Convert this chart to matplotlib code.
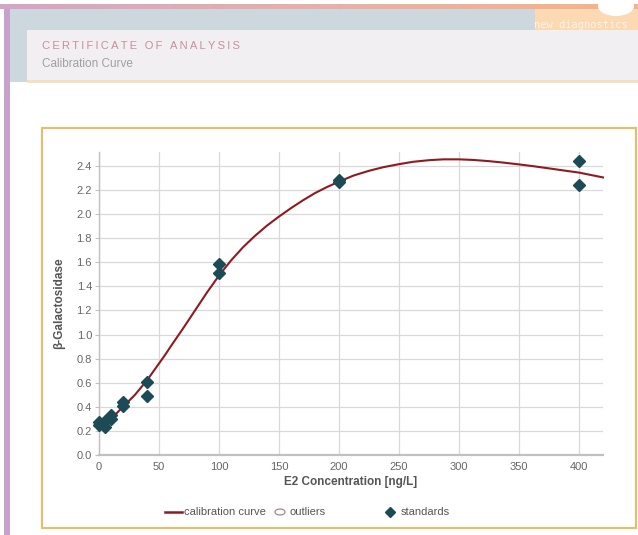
import numpy as np
import matplotlib
matplotlib.use("Agg")
import matplotlib.pyplot as plt
from matplotlib.patches import Rectangle, Ellipse
from matplotlib.lines import Line2D
from matplotlib.colors import LinearSegmentedColormap

plt.rcParams['font.family'] = ['Liberation Sans', 'DejaVu Sans']

# ---- data ----
std_x = [0, 0, 5, 5, 10, 10, 20, 20, 40, 40, 100, 100, 200, 200, 400, 400]
std_y = [0.27, 0.25, 0.28, 0.23, 0.33, 0.30, 0.44, 0.41, 0.61, 0.49, 1.59, 1.51, 2.27, 2.28, 2.44, 2.24]

curve_x = [0, 5, 10, 15, 20, 25, 30, 35, 40, 45, 50, 55, 60, 70, 80, 90, 100, 110, 120,
           130, 140, 150, 160, 170, 180, 190, 200, 212, 225, 237, 250, 262, 275, 287,
           300, 312, 325, 337, 350, 362, 375, 387, 400, 410, 420]
curve_y = [0.25, 0.27, 0.305, 0.35, 0.40, 0.45, 0.50, 0.56, 0.62, 0.69, 0.76, 0.83, 0.905,
           1.05, 1.20, 1.35, 1.49, 1.615, 1.725, 1.82, 1.905, 1.98, 2.05, 2.115, 2.175,
           2.225, 2.27, 2.32, 2.36, 2.39, 2.415, 2.435, 2.448, 2.455, 2.455, 2.45, 2.44,
           2.428, 2.413, 2.398, 2.38, 2.363, 2.345, 2.325, 2.305]

x_ticks = [0, 50, 100, 150, 200, 250, 300, 350, 400]
y_ticks = [0.0, 0.2, 0.4, 0.6, 0.8, 1.0, 1.2, 1.4, 1.6, 1.8, 2.0, 2.2, 2.4]

title = "CERTIFICATE OF ANALYSIS"
subtitle = "Calibration Curve"
brand = "new_diagnostics"
x_label = "E2 Concentration [ng/L]"
y_label = "β-Galactosidase"
legend_labels = ["calibration curve", "outliers", "standards"]

W, H = 638, 535
fig = plt.figure(figsize=(W / 100, H / 100), dpi=100)


def fx(px):
    return px / W


def fy(py):
    return 1 - py / H


def rect(x0, y0, x1, y1, color, z=0, **kw):
    fig.add_artist(Rectangle((fx(x0), fy(y1)), fx(x1) - fx(x0), fy(y0) - fy(y1),
                             transform=fig.transFigure, facecolor=color,
                             edgecolor='none', zorder=z, **kw))


# ---- page decorations ----
gax = fig.add_axes([fx(0), fy(9), 1, fy(4) - fy(9)])
grad = np.linspace(0, 1, 256).reshape(1, -1)
cmap = LinearSegmentedColormap.from_list("g", ["#d4a6c6", "#e8b0a8", "#f6b486"])
gax.imshow(grad, aspect='auto', cmap=cmap, extent=[0, 1, 0, 1])
gax.axis('off')

rect(10, 9, 638, 82, "#cdd8de", z=0)
rect(27, 30, 638, 80, "#f1eff1", z=1)
rect(27, 80, 638, 83, "#f3e2c0", z=1)
rect(535, 9, 638, 30, "#fbd9b2", z=1)
fig.add_artist(Ellipse((fx(616), fy(6)), fx(36), fy(0) - fy(20),
                       transform=fig.transFigure, facecolor='white',
                       edgecolor='none', zorder=2))
fig.text(fx(534), fy(25), brand, color='#fff4ea', fontsize=7.5,
         family='DejaVu Sans Mono', va='center', ha='left', zorder=3)
rect(4, 9, 10, 535, "#c6a2cc", z=2)

# letter-spaced title (thin spaces between letters)
fig.text(fx(42), fy(46), "\u2009".join(title), color="#c8909a", fontsize=8,
         va='center', ha='left', zorder=3)
fig.text(fx(42), fy(64), subtitle, color="#a0a0a0", fontsize=8.5, va='center',
         ha='left', zorder=3)

# chart frame
fig.add_artist(Rectangle((fx(42), fy(528)), fx(636) - fx(42), fy(128) - fy(528),
                         transform=fig.transFigure, facecolor='white',
                         edgecolor="#e9bc68", linewidth=1.5, zorder=1))

# ---- plot ----
ax = fig.add_axes([fx(99), fy(455), fx(603) - fx(99), fy(152) - fy(455)])
ax.set_zorder(5)
ax.patch.set_alpha(0)
ax.set_xlim(0, 420)
ax.set_ylim(0, 2.516)
ax.set_xticks(x_ticks)
ax.set_yticks(y_ticks)
ax.set_yticklabels([f"{v:.1f}" for v in y_ticks])
ax.grid(True, color="#d9d9d9", linewidth=0.9)
ax.set_axisbelow(True)
for s in ['top', 'right']:
    ax.spines[s].set_visible(False)
ax.spines['left'].set_color("#c0c0c0")
ax.spines['left'].set_linewidth(1.0)
ax.spines['bottom'].set_color("#c0c0c0")
ax.spines['bottom'].set_linewidth(1.6)
ax.tick_params(axis='x', length=0, pad=5, labelsize=8, labelcolor="#666666")
ax.tick_params(axis='y', length=3, width=0.8, color="#c0c0c0", pad=2,
               labelsize=8, labelcolor="#666666")

ax.plot(curve_x, curve_y, color="#8e1a22", linewidth=1.5, zorder=3, clip_on=False,
        solid_joinstyle='round')
ax.plot(std_x, std_y, linestyle='none', marker='D', markersize=6,
        color="#1c4b55", markeredgecolor="#1c4b55", zorder=4, clip_on=False)

ax.set_xlabel(x_label, fontsize=8.5, fontweight='bold', color="#555555", labelpad=3)
ax.set_ylabel(y_label, fontsize=8.5, fontweight='bold', color="#555555", labelpad=8)

# ---- legend ----
ly = fy(512)
fig.add_artist(Line2D([fx(165), fx(182)], [ly, ly], transform=fig.transFigure,
                      color="#8e1a22", linewidth=1.8, zorder=6))
fig.text(fx(184), ly, legend_labels[0], fontsize=8, color="#555555",
         va='center', ha='left', zorder=6)
fig.add_artist(Ellipse((fx(280), ly), fx(10), fy(0) - fy(6), transform=fig.transFigure,
                       facecolor='white', edgecolor="#a08a90", linewidth=0.9, zorder=6))
fig.text(fx(289), ly, legend_labels[1], fontsize=8, color="#555555",
         va='center', ha='left', zorder=6)
fig.add_artist(Line2D([fx(390)], [ly], transform=fig.transFigure, marker='D',
                      markersize=5, color="#1c4b55", linestyle='none', zorder=6))
fig.text(fx(401), ly, legend_labels[2], fontsize=8, color="#555555",
         va='center', ha='left', zorder=6)

fig.savefig("out.png", dpi=100)
